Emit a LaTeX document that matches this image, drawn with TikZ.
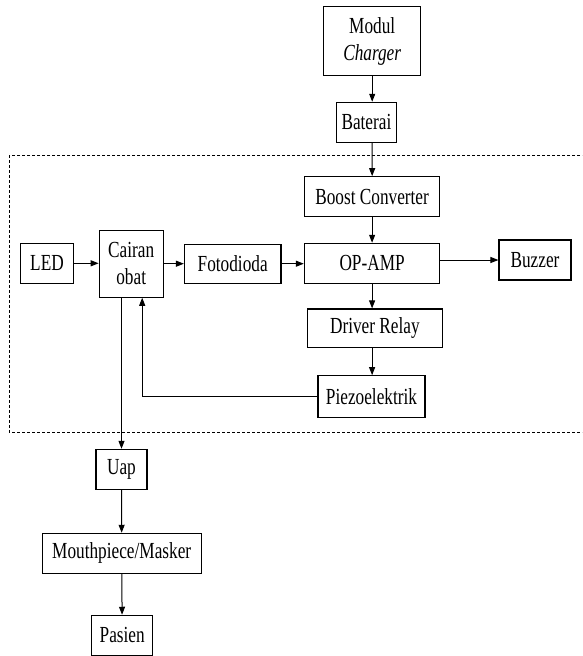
\documentclass[tikz,border=0pt]{standalone}
\usepackage{fontspec}
\setmainfont[FakeStretch=0.75]{Liberation Serif}
\usepackage{tikz}
\usetikzlibrary{arrows.meta}

\tikzset{
  blok/.style={draw,line width=1.1pt,minimum height=40pt,inner sep=1pt,align=center,
    font=\fontsize{23}{27.5}\selectfont},
  panah/.style={line width=1pt,-{Triangle[length=8pt,width=6pt]}}
}

\begin{document}
\begin{tikzpicture}[x=1pt,y=1pt]
  \useasboundingbox (0,0) rectangle (582,-656);
  \clip (0,0) rectangle (582,-656);
  %
  \draw[line width=1pt,dash pattern=on 3pt off 2pt] (590,-155.5) -- (9.3,-155.5) -- (9.3,-432) -- (590,-432);
  %
  \node[blok,minimum width=97pt,minimum height=69pt] (modul) at (372.2,-41.3) {Modul\\\textit{Charger}};
  \node[blok,minimum width=60pt] (baterai) at (366.4,-122.3) {Baterai};
  \node[blok,minimum width=135.5pt] (boost) at (372.1,-196.7) {Boost Converter};
  \node[blok,minimum width=53pt] (led) at (47,-263.3) {LED};
  \node[blok,minimum width=64pt,minimum height=67pt] (cairan) at (131.2,-263.7) {Cairan\\obat};
  \node[blok,minimum width=96.5pt,minimum height=39pt] (foto) at (232.7,-263.7) {Fotodioda};
  \node[blok,minimum width=135.5pt] (opamp) at (372.1,-263.3) {OP-AMP};
  \node[blok,minimum width=72pt] (buzzer) at (535,-260) {Buzzer};
  \node[blok,minimum width=135pt,minimum height=38.5pt] (driver) at (374.9,-328.2) {Driver Relay};
  \node[blok,minimum width=107pt,minimum height=41.5pt] (piezo) at (371.5,-396.5) {Piezoelektrik};
  \node[blok,minimum width=51pt] (uap) at (121.5,-469.3) {Uap};
  \node[blok,minimum width=158.7pt] (mouth) at (121.7,-553.3) {Mouthpiece/Masker};
  \node[blok,minimum width=61pt] (pasien) at (122.2,-635.3) {Pasien};
  %
  \draw[panah] (modul) -- (modul.south |- baterai.north);
  \draw[panah] (modul.south |- baterai.south) -- (boost);
  \draw[panah] (boost) -- (opamp);
  \draw[panah] (led) -- (cairan.west |- led);
  \draw[panah] (cairan.east |- foto) -- (foto);
  \draw[panah] (foto) -- (opamp.west |- foto);
  \draw[panah] (opamp.east |- buzzer) -- (buzzer);
  \draw[panah] (opamp.south) -- (opamp.south |- driver.north);
  \draw[panah] (opamp.south |- driver.south) -- (opamp.south |- piezo.north);
  %
  \coordinate (balik) at ([xshift=11pt]cairan.south);
  \draw[panah] (piezo.west) -| (balik);
  \draw[panah] (uap.north |- cairan.south) -- (uap);
  \draw[panah] (uap) -- (mouth);
  \draw[panah] (mouth) -- (pasien);
\end{tikzpicture}
\end{document}
